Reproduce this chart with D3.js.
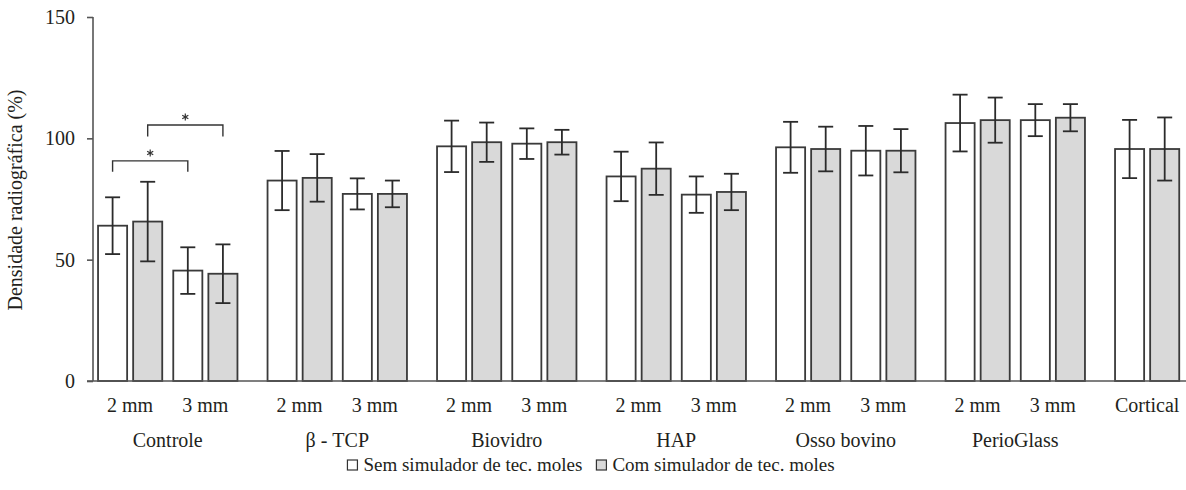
<!DOCTYPE html>
<html>
<head>
<meta charset="utf-8">
<script src="https://cdnjs.cloudflare.com/ajax/libs/d3/7.8.5/d3.min.js"></script>
<style>
body { margin: 0; background: #fff; }
svg text { font-family: "Liberation Serif", "DejaVu Serif", serif; fill: #231f20; }
</style>
</head>
<body>
<div id="chart"></div>
<script>
// data
const groups = ["Controle", "β - TCP", "Biovidro", "HAP", "Osso bovino", "PerioGlass", "Cortical"];
const sizes = ["2 mm", "3 mm"];
const series = ["Sem simulador de tec. moles", "Com simulador de tec. moles"];

const slotGroup = ["Controle", "Controle", "β - TCP", "β - TCP", "Biovidro", "Biovidro",
    "HAP", "HAP", "Osso bovino", "Osso bovino", "PerioGlass", "PerioGlass", "Cortical"];
const slotSize = ["2 mm", "3 mm", "2 mm", "3 mm", "2 mm", "3 mm", "2 mm", "3 mm",
    "2 mm", "3 mm", "2 mm", "3 mm", "2 mm"];
const slotLabel = ["2 mm", "3 mm", "2 mm", "3 mm", "2 mm", "3 mm", "2 mm", "3 mm",
    "2 mm", "3 mm", "2 mm", "3 mm", "Cortical"];

const semMean = [64.0, 45.5, 82.6, 77.1, 96.7, 97.8, 84.3, 76.8, 96.3, 94.9, 106.3, 107.5, 95.6];
const semSd   = [11.7, 9.6, 12.2, 6.4, 10.6, 6.3, 10.2, 7.5, 10.5, 10.2, 11.7, 6.6, 12.0];
const comMean = [65.7, 44.2, 83.7, 77.1, 98.4, 98.4, 87.5, 77.9, 95.6, 94.9, 107.5, 108.5, 95.6];
const comSd   = [16.4, 12.1, 9.8, 5.5, 8.1, 5.1, 10.8, 7.5, 9.2, 8.9, 9.3, 5.6, 13.0];

const yTicks = [0, 50, 100, 150];

// significance brackets: from slot, to slot, series, bar level, leg level
const sigFrom = [0, 0];
const sigTo = [1, 1];
const sigSeries = [0, 1];
const sigLevel = [90.7, 105.5];
const sigLeg = [86.2, 100.8];

const W = 1186, H = 490;
const plotLeft = 93, plotTop = 17, plotBottom = 381;

const svg = d3.select("#chart").append("svg").attr("width", W).attr("height", H);

const y = d3.scaleLinear().domain([0, 150]).range([plotBottom, plotTop]);

const x0 = d3.scaleBand().domain(groups).range([83, 83 + 169.5 * groups.length]);
const x1 = d3.scaleBand().domain(sizes).range([0, x0.bandwidth()]).paddingInner(0).paddingOuter(9.5 / 75);
const x2 = d3.scaleBand().domain([0, 1]).range([0, x1.bandwidth()]).paddingInner(6 / 35).paddingOuter(5.5 / 35);

function slotX(i) { return x0(slotGroup[i]) + x1(slotSize[i]); }
function slotCenter(i) { return slotX(i) + x1.bandwidth() / 2; }

let bars = [];
for (let i = 0; i < slotGroup.length; i++) {
    bars.push({ slot: i, s: 0, mean: semMean[i], sd: semSd[i] });
    bars.push({ slot: i, s: 1, mean: comMean[i], sd: comSd[i] });
}

const fills = ["#ffffff", "#d9d9d9"];

// bars
svg.append("g").selectAll("rect")
    .data(bars)
    .enter().append("rect")
    .attr("x", d => slotX(d.slot) + x2(d.s))
    .attr("y", d => y(d.mean))
    .attr("width", x2.bandwidth())
    .attr("height", d => y(0) - y(d.mean))
    .attr("fill", d => fills[d.s])
    .attr("stroke", "#3a3a3a")
    .attr("stroke-width", 1.8);

// error bars
const eb = svg.append("g").attr("stroke", "#2b2b2b").attr("stroke-width", 1.8);
bars.forEach(function(d) {
    const cx = slotX(d.slot) + x2(d.s) + x2.bandwidth() / 2;
    const hi = y(d.mean + d.sd), lo = y(d.mean - d.sd);
    eb.append("line").attr("x1", cx).attr("x2", cx).attr("y1", hi).attr("y2", lo);
    eb.append("line").attr("x1", cx - 7.5).attr("x2", cx + 7.5).attr("y1", hi).attr("y2", hi);
    eb.append("line").attr("x1", cx - 7.5).attr("x2", cx + 7.5).attr("y1", lo).attr("y2", lo);
});

// significance brackets
const sg = svg.append("g");
const star = d3.symbol().type(d3.symbolAsterisk).size(34);
for (let k = 0; k < sigFrom.length; k++) {
    const xa = slotX(sigFrom[k]) + x2(sigSeries[k]) + x2.bandwidth() / 2;
    const xb = slotX(sigTo[k]) + x2(sigSeries[k]) + x2.bandwidth() / 2;
    sg.append("path")
        .attr("d", "M" + xa + "," + y(sigLeg[k]) + "V" + y(sigLevel[k]) + "H" + xb + "V" + y(sigLeg[k]))
        .attr("fill", "none").attr("stroke", "#333").attr("stroke-width", 1.4);
    sg.append("path")
        .attr("d", star())
        .attr("transform", "translate(" + ((xa + xb) / 2) + "," + (y(sigLevel[k]) - 8) + ")")
        .attr("fill", "none").attr("stroke", "#333").attr("stroke-width", 1.2);
}

// y axis
const yAxis = svg.append("g")
    .attr("transform", "translate(" + plotLeft + ",0)")
    .call(d3.axisLeft(y).tickValues(yTicks).tickSize(6).tickPadding(12));
yAxis.select(".domain").attr("stroke", "#555").attr("stroke-width", 1.6)
    .attr("d", "M0," + y(150) + "V" + y(0));
yAxis.selectAll(".tick line").attr("stroke", "#555").attr("stroke-width", 1.6);
yAxis.selectAll("text").style("font-size", "20px").attr("fill", "#231f20")
    .style("font-family", "Liberation Serif, serif");

// x baseline
svg.append("line")
    .attr("x1", plotLeft - 6).attr("x2", W)
    .attr("y1", y(0)).attr("y2", y(0))
    .attr("stroke", "#555").attr("stroke-width", 1.6);

// slot labels
svg.append("g").selectAll("text")
    .data(slotLabel)
    .enter().append("text")
    .attr("x", (d, i) => slotCenter(i))
    .attr("y", 412)
    .attr("text-anchor", "middle")
    .style("font-size", "20px")
    .text(d => d);

// group labels
svg.append("g").selectAll("text")
    .data(groups.slice(0, 6))
    .enter().append("text")
    .attr("x", d => x0(d) + x0.bandwidth() / 2)
    .attr("y", 447)
    .attr("text-anchor", "middle")
    .style("font-size", "20px")
    .text(d => d);

// y title
svg.append("text")
    .attr("transform", "translate(22,200) rotate(-90)")
    .attr("text-anchor", "middle")
    .style("font-size", "20px")
    .text("Densidade radiográfica (%)");

// legend, laid out from measured text widths and centred under the plot
const leg = svg.append("g");
let cursor = 0;
series.forEach(function(s, i) {
    leg.append("rect")
        .attr("x", cursor).attr("y", 460).attr("width", 10).attr("height", 10)
        .attr("fill", fills[i]).attr("stroke", "#333").attr("stroke-width", 1.2);
    const t = leg.append("text")
        .attr("x", cursor + 16).attr("y", 471)
        .style("font-size", "19px")
        .text(s);
    cursor += 16 + t.node().getComputedTextLength() + 14;
});
const legW = cursor - 14;
leg.attr("transform", "translate(" + (591 - legW / 2) + ",0)");
</script>
</body>
</html>
